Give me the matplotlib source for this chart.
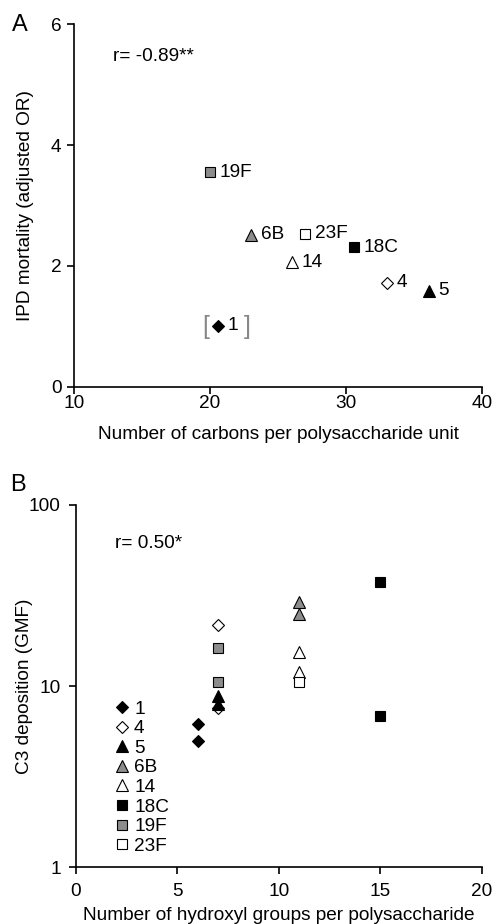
import matplotlib
matplotlib.use("Agg")
import matplotlib.pyplot as plt

plt.rcParams['font.family'] = ['Liberation Sans', 'DejaVu Sans']

# Serotypes and marker styles
serotypes = ['1', '4', '5', '6B', '14', '18C', '19F', '23F']
markers = ['D', 'D', '^', '^', '^', 's', 's', 's']
faces = ['black', 'white', 'black', '#8c8c8c', 'white', 'black', '#8c8c8c', 'white']
msizes = [6.5, 6.5, 8, 8, 8, 7, 7, 7]

# Panel A: carbons per polysaccharide unit vs IPD mortality (adjusted OR)
carbons = [20.6, 33.0, 36.1, 23.0, 26.0, 30.6, 20.0, 27.0]
mortality = [1.01, 1.72, 1.59, 2.52, 2.06, 2.31, 3.55, 2.53]
r_a = "r= -0.89**"

# Panel B: hydroxyl groups per polysaccharide vs C3 deposition (GMF)
hydroxyl = {'1': [6, 6], '4': [7, 7], '5': [7, 7], '6B': [11, 11],
            '14': [11, 11], '18C': [15, 15], '19F': [7, 7], '23F': [11]}
c3 = {'1': [6.2, 5.0], '4': [21.7, 7.6], '5': [8.8, 8.0], '6B': [29.3, 24.9],
      '14': [15.4, 11.9], '18C': [37.4, 6.8], '19F': [16.3, 10.6], '23F': [10.6]}
r_b = "r= 0.50*"

fig = plt.figure(figsize=(4.94, 9.24), dpi=100)
axA = fig.add_axes([0.1498, 0.5812, 0.8259, 0.3928])
axB = fig.add_axes([0.1538, 0.0614, 0.8219, 0.3921])

fs = 13.7
for ax in (axA, axB):
    ax.spines['top'].set_visible(False)
    ax.spines['right'].set_visible(False)
    ax.spines['left'].set_linewidth(1.2)
    ax.spines['bottom'].set_linewidth(1.2)
    ax.tick_params(direction='out', length=5, width=1.2, labelsize=fs)
axA.tick_params(axis='x', pad=1)
axA.tick_params(axis='y', pad=4)
axB.tick_params(axis='x', pad=6)
axB.tick_params(axis='y', pad=6)

# ---- Panel A ----
for i, s in enumerate(serotypes):
    axA.plot(carbons[i], mortality[i], linestyle='none', marker=markers[i],
             markersize=msizes[i], markerfacecolor=faces[i],
             markeredgecolor='black', markeredgewidth=0.8, clip_on=False)
    axA.annotate(s, (carbons[i], mortality[i]), xytext=(7, 0),
                 textcoords='offset points', fontsize=fs, va='center', ha='left')
# brackets around serotype 1
axA.annotate('[', (carbons[0], mortality[0]), xytext=(-9, -0.5), textcoords='offset points',
             fontsize=18, color='#888888', va='center', ha='center')
axA.annotate(']', (carbons[0], mortality[0]), xytext=(21, -0.5), textcoords='offset points',
             fontsize=18, color='#888888', va='center', ha='center')

axA.set_xlim(10, 40)
axA.set_ylim(0, 6)
axA.set_xticks([10, 20, 30, 40])
axA.set_yticks([0, 2, 4, 6])
axA.set_xlabel('Number of carbons per polysaccharide unit', fontsize=fs)
axA.set_ylabel('IPD mortality (adjusted OR)', fontsize=fs)
axA.xaxis.set_label_coords(0.5, -0.132)
axA.xaxis.label.set_va('center')
axA.yaxis.set_label_coords(-0.120, 0.5)
axA.yaxis.label.set_va('center')
axA.text(0.095, 0.91, r_a, transform=axA.transAxes, fontsize=fs, va='center')
fig.text(0.024, 0.973, 'A', fontsize=17, va='center')

# ---- Panel B ----
handles = []
for i, s in enumerate(serotypes):
    h, = axB.plot(hydroxyl[s], c3[s], linestyle='none', marker=markers[i],
                  markersize=msizes[i], markerfacecolor=faces[i],
                  markeredgecolor='black', markeredgewidth=0.8, label=s)
    handles.append(h)

axB.set_yscale('log')
axB.set_xlim(0, 20)
axB.set_ylim(1, 100)
axB.set_xticks([0, 5, 10, 15, 20])
axB.set_yticks([1, 10, 100])
axB.set_yticklabels(['1', '10', '100'])
axB.minorticks_off()
axB.set_xlabel('Number of hydroxyl groups per polysaccharide', fontsize=fs)
axB.set_ylabel('C3 deposition (GMF)', fontsize=fs)
axB.xaxis.set_label_coords(0.5, -0.132)
axB.xaxis.label.set_va('center')
axB.yaxis.set_label_coords(-0.126, 0.5)
axB.yaxis.label.set_va('center')
axB.text(0.095, 0.895, r_b, transform=axB.transAxes, fontsize=fs, va='center')
fig.text(0.02, 0.475, 'B', fontsize=17, va='center')

leg = axB.legend(handles=handles, loc='lower left', bbox_to_anchor=(0.075, 0.008),
                 frameon=False, fontsize=fs, handlelength=0.6, handletextpad=0.35,
                 labelspacing=0.12, borderpad=0, numpoints=1)

fig.savefig('out.png', dpi=100)
